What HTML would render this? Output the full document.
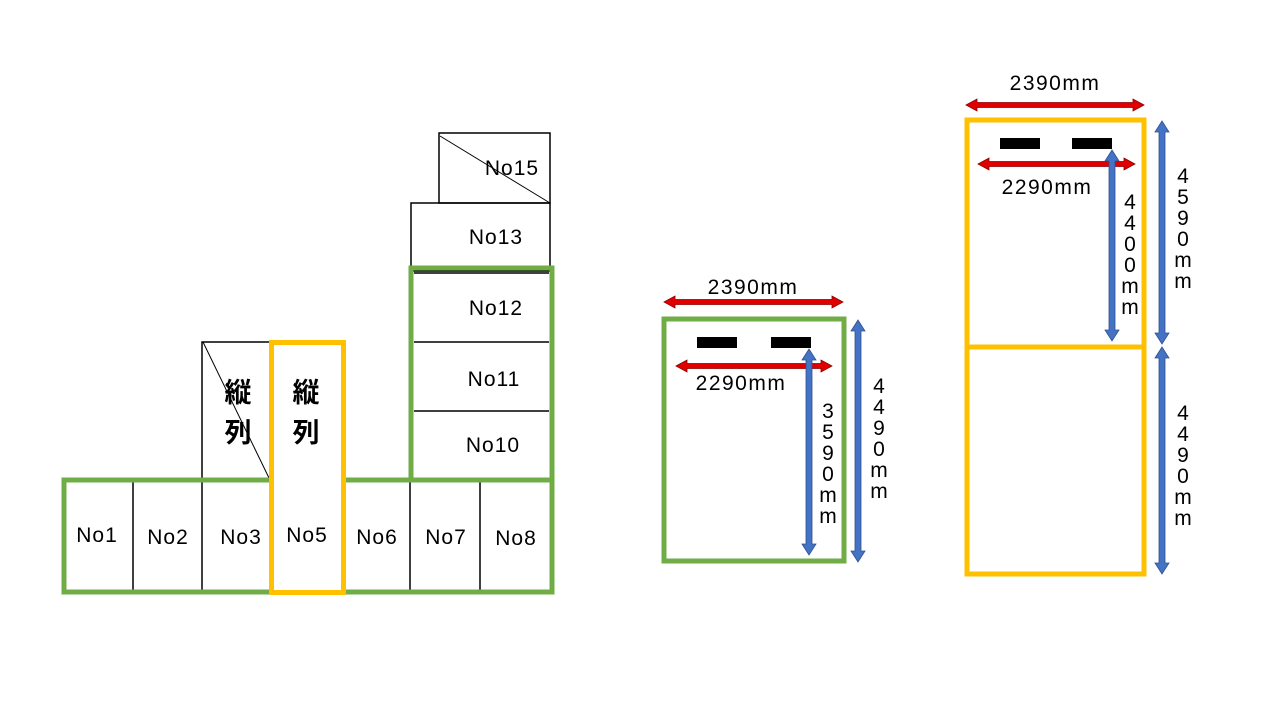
<!DOCTYPE html>
<html><head><meta charset="utf-8"><style>
body{margin:0;background:#fff;}
svg{display:block}
text{font-family:"Liberation Sans","Noto Sans CJK JP",sans-serif;fill:#000}
</style></head><body>
<svg width="1280" height="720" viewBox="0 0 1280 720">
<g fill="none" stroke="#000" stroke-width="1.5">
 <rect x="439" y="133" width="111" height="70"/>
 <line x1="440" y1="136" x2="550" y2="203" stroke-width="1"/>
 <rect x="411" y="203" width="139" height="68"/>
 <line x1="414" y1="273" x2="549" y2="273"/>
 <line x1="414" y1="342" x2="549" y2="342"/>
 <line x1="414" y1="411" x2="549" y2="411"/>
 <rect x="202" y="342" width="69" height="138"/>
 <line x1="203" y1="342" x2="270" y2="480" stroke-width="1"/>
 <line x1="133" y1="482" x2="133" y2="591"/>
 <line x1="202" y1="482" x2="202" y2="591"/>
 <line x1="410" y1="482" x2="410" y2="591"/>
 <line x1="480" y1="482" x2="480" y2="591"/>
</g>
<g fill="none" stroke="#70ad47" stroke-width="5">
 <rect x="64" y="480" width="488" height="112"/>
 <rect x="411" y="268" width="141" height="212"/>
</g>
<rect x="271.5" y="342.5" width="72" height="250" fill="#fff" stroke="#ffc000" stroke-width="5"/>
<g font-size="21" letter-spacing="1">
 <text x="97" y="542" text-anchor="middle">No1</text>
 <text x="168" y="544" text-anchor="middle">No2</text>
 <text x="241" y="544" text-anchor="middle">No3</text>
 <text x="307" y="542" text-anchor="middle">No5</text>
 <text x="377" y="544" text-anchor="middle">No6</text>
 <text x="446" y="544" text-anchor="middle">No7</text>
 <text x="516" y="545" text-anchor="middle">No8</text>
 <text x="493" y="452" text-anchor="middle">No10</text>
 <text x="494" y="386" text-anchor="middle">No11</text>
 <text x="496" y="315" text-anchor="middle">No12</text>
 <text x="496" y="244" text-anchor="middle">No13</text>
 <text x="512" y="175" text-anchor="middle">No15</text>
</g>
<g font-size="27" font-weight="bold">
 <text x="238" y="402" text-anchor="middle">縦</text>
 <text x="238" y="442" text-anchor="middle">列</text>
 <text x="306" y="402" text-anchor="middle">縦</text>
 <text x="306" y="442" text-anchor="middle">列</text>
</g>

<rect x="664" y="319" width="180" height="242" fill="none" stroke="#70ad47" stroke-width="5"/>
<rect x="697" y="337" width="40" height="11" fill="#000"/>
<rect x="771" y="337" width="40" height="11" fill="#000"/>
<g fill="#e00000" stroke="#8b0000" stroke-width="0.8">
 <polygon points="664,302 675,296 675,299.5 832,299.5 832,296 843,302 832,308 832,304.5 675,304.5 675,308"/>
 <polygon points="676,366 687,360 687,363.5 821,363.5 821,360 832,366 821,372 821,368.5 687,368.5 687,372"/>
 <polygon points="966,105 977,99 977,102.5 1133,102.5 1133,99 1144,105 1133,111 1133,107.5 977,107.5 977,111"/>
 <polygon points="978,164 989,158 989,161.5 1124,161.5 1124,158 1135,164 1124,170 1124,166.5 989,166.5 989,170"/>
</g>
<g fill="#4472c4" stroke="#2f528f" stroke-width="0.8">
 <polygon points="809,349 816,360 812,360 812,544 816,544 809,555 802,544 806,544 806,360 802,360"/>
 <polygon points="858,320 865,331 861,331 861,551 865,551 858,562 851,551 855,551 855,331 851,331"/>
 <polygon points="1112,150 1119,161 1115,161 1115,330 1119,330 1112,341 1105,330 1109,330 1109,161 1105,161"/>
 <polygon points="1162,121 1169,132 1165,132 1165,333 1169,333 1162,344 1155,333 1159,333 1159,132 1155,132"/>
 <polygon points="1162,347 1169,358 1165,358 1165,563 1169,563 1162,574 1155,563 1159,563 1159,358 1155,358"/>
</g>
<g font-size="21" letter-spacing="1.5">
 <text x="753" y="294" text-anchor="middle">2390mm</text>
 <text x="741" y="390" text-anchor="middle">2290mm</text>
 <text x="1055" y="90" text-anchor="middle">2390mm</text>
 <text x="1047" y="194" text-anchor="middle">2290mm</text>
</g>
<g font-size="21" text-anchor="middle">
 <text x="828" y="418"><tspan x="828">3</tspan><tspan x="828" dy="21">5</tspan><tspan x="828" dy="21">9</tspan><tspan x="828" dy="21">0</tspan><tspan x="828" dy="21">m</tspan><tspan x="828" dy="21">m</tspan></text>
 <text x="879" y="393"><tspan x="879">4</tspan><tspan x="879" dy="21">4</tspan><tspan x="879" dy="21">9</tspan><tspan x="879" dy="21">0</tspan><tspan x="879" dy="21">m</tspan><tspan x="879" dy="21">m</tspan></text>
 <text x="1130" y="209"><tspan x="1130">4</tspan><tspan x="1130" dy="21">4</tspan><tspan x="1130" dy="21">0</tspan><tspan x="1130" dy="21">0</tspan><tspan x="1130" dy="21">m</tspan><tspan x="1130" dy="21">m</tspan></text>
 <text x="1183" y="183"><tspan x="1183">4</tspan><tspan x="1183" dy="21">5</tspan><tspan x="1183" dy="21">9</tspan><tspan x="1183" dy="21">0</tspan><tspan x="1183" dy="21">m</tspan><tspan x="1183" dy="21">m</tspan></text>
 <text x="1183" y="420"><tspan x="1183">4</tspan><tspan x="1183" dy="21">4</tspan><tspan x="1183" dy="21">9</tspan><tspan x="1183" dy="21">0</tspan><tspan x="1183" dy="21">m</tspan><tspan x="1183" dy="21">m</tspan></text>
</g>

<g fill="none" stroke="#ffc000" stroke-width="5">
 <rect x="967" y="120" width="177" height="454"/>
 <line x1="967" y1="347" x2="1144" y2="347"/>
</g>
<rect x="1000" y="138" width="40" height="11" fill="#000"/>
<rect x="1072" y="138" width="40" height="11" fill="#000"/>
</svg>
</body></html>
